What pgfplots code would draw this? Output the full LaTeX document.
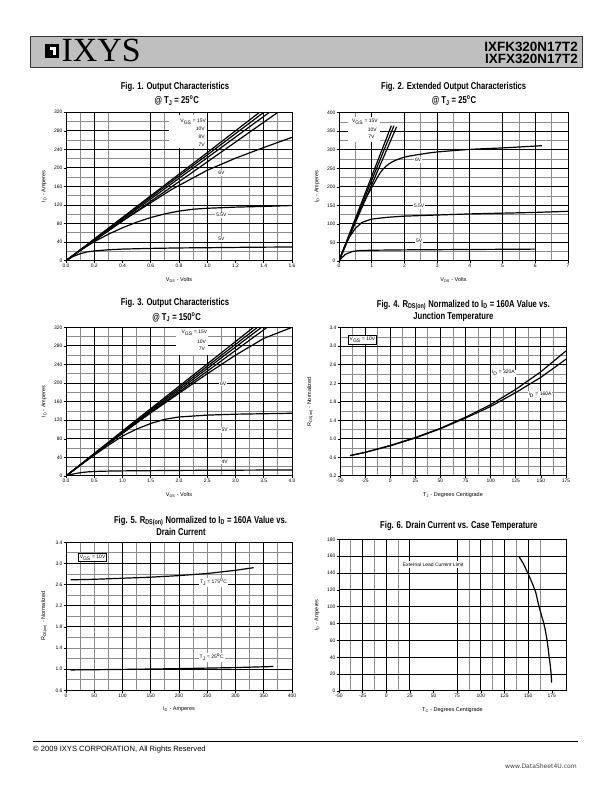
\documentclass[border=0pt]{standalone}
\usepackage{fontspec}
\setmainfont{Liberation Sans}
\newfontface\titlefont[FakeStretch=0.77]{Liberation Sans Bold}
\newfontfamily\seriffont{Liberation Serif}
\newfontfamily\dejavu{DejaVu Sans}
\usepackage{pgfplots}
\pgfplotsset{compat=1.18}
\tikzset{
  lab/.style={font=\fontsize{5}{6}\selectfont, fill=white, inner sep=1bp},
  onedec/.style={/pgf/number format/.cd, fixed, fixed zerofill, precision=1},
}
\pgfplotsset{
  ds/.style={
    scale only axis, anchor=south west,
    axis line style={line width=1bp},
    tick align=outside, xtick pos=lower, ytick pos=left,
    major tick length=2.3bp, minor tick length=0bp,
    every tick/.style={black, line width=0.6bp},
    ticklabel style={font=\fontsize{5}{6}\selectfont, inner sep=1bp},
    /pgf/number format/assume math mode=true,
    xmajorgrids=false, ymajorgrids=false,
    xminorgrids=true, yminorgrids=true,
    minor grid style={line width=0.8bp, color=black!45},
    extra x tick style={grid=major, major grid style={line width=0.95bp, black}, xticklabel={}},
    extra y tick style={grid=major, major grid style={line width=0.95bp, black}, yticklabel={}},
    cycle list={{black, solid, mark=none, smooth}},
    every axis plot post/.append style={line width=1.2bp},
    every axis x label/.style={at={(axis description cs:0.5,0)}, anchor=center, yshift=-19bp, font=\fontsize{5.5}{6.5}\selectfont},
    every axis y label/.style={at={(axis description cs:0,0.5)}, anchor=center, xshift=-22bp, rotate=90, font=\fontsize{5.5}{6.5}\selectfont},
  },
}
\newcommand{\ttl}{\titlefont\fontsize{10}{12}\selectfont}
\begin{document}
\begin{tikzpicture}[x=1bp,y=1bp]
\useasboundingbox (0,0) rectangle (612,792);
\fill[white] (0,0) rectangle (612,792);
% ---------- header ----------
\filldraw[fill=black!25, draw=black!80, line width=0.8bp] (30,792-36) rectangle (582,792-67);
\fill[black] (45,792-58.5) rectangle (59,792-44);
\fill[white] (49.5,792-55.5) rectangle (56,792-47);
\fill[black] (49.5,792-55.5) rectangle (52.5,792-50.5);
\node[anchor=base west, inner sep=0pt, font=\seriffont\fontsize{34}{36}\selectfont] at (61.5,792-62) {IXYS};
\node[anchor=base east, inner sep=0pt, font=\bfseries\fontsize{13.5}{15}\selectfont] at (578,792-52) {IXFK320N17T2};
\node[anchor=base east, inner sep=0pt, font=\bfseries\fontsize{13.5}{15}\selectfont] at (578,792-64) {IXFX320N17T2};
% ---------- titles ----------
\node[font=\ttl] at (175,792-86.7) {Fig. 1. Output Characteristics};
\node[font=\ttl] at (176.7,792-100.7) {@ T\textsubscript{J} = 25\textsuperscript{o}C};
\node[font=\ttl] at (453.7,792-87.3) {Fig. 2. Extended Output Characteristics};
\node[font=\ttl] at (454,792-100.7) {@ T\textsubscript{J} = 25\textsuperscript{o}C};
\node[font=\ttl] at (175,792-303.3) {Fig. 3. Output Characteristics};
\node[font=\ttl] at (176.7,792-317.3) {@ T\textsubscript{J} = 150\textsuperscript{o}C};
\node[font=\ttl] at (463.3,792-305) {Fig. 4. R\textsubscript{DS(on)} Normalized to I\textsubscript{D} = 160A Value vs.};
\node[font=\ttl] at (453.3,792-316.5) {Junction Temperature};
\node[font=\ttl] at (200.5,792-521) {Fig. 5. R\textsubscript{DS(on)} Normalized to I\textsubscript{D} = 160A Value vs.};
\node[font=\ttl] at (181,792-532) {Drain Current};
\node[font=\ttl] at (458.8,792-526) {Fig. 6. Drain Current vs. Case Temperature};

% ================= Fig 1 =================
\begin{axis}[ds, at={(66bp,531.3bp)}, width=226bp, height=148.4bp,
  xmin=0, xmax=1.6, ymin=0, ymax=320,
  xtick={0,0.2,0.4,0.6,0.8,1.0,1.2,1.4,1.6}, ytick={0,40,80,120,160,200,240,280,320},
  xticklabel style={onedec},
  minor xtick={0.1,0.3,0.7,0.9,1.1,1.3,1.5},
  extra x ticks={0.2,0.6,0.8,1.0,1.4},
  minor ytick={20,60,100,140,180,220,260,300},
  extra y ticks={40,80,120,160,200,240,280},
  xlabel={V\textsubscript{DS} - Volts}, ylabel={I\textsubscript{D} - Amperes}]
\node[fill=white, inner sep=0pt, minimum width=38bp, minimum height=33bp, anchor=north east] at (axis cs:1.0,314) {};
\node[lab, anchor=east, fill=none] at (axis cs:1.0,299) {V\textsubscript{GS} = 15V};
\node[lab, anchor=east, fill=none] at (axis cs:0.99,284) {10V};
\node[lab, anchor=east, fill=none] at (axis cs:0.99,267) {8V};
\node[lab, anchor=east, fill=none] at (axis cs:0.99,249) {7V};
\node[lab] at (axis cs:1.10,189) {6V};
\node[lab] at (axis cs:1.10,98) {5.5V};
\node[lab] at (axis cs:1.10,47) {5V};
\addplot coordinates {(0,0)(0.2,46.7)(0.6,140)(1.0,233)(1.37,320)};
\addplot coordinates {(0,0)(0.2,45.7)(0.6,137)(1.0,228)(1.40,320)};
\addplot coordinates {(0,0)(0.2,44.5)(0.6,133)(1.0,222)(1.44,320)};
\addplot coordinates {(0,0)(0.2,43)(0.6,128)(1.0,213)(1.50,320)};
\addplot coordinates {(0,0)(0.2,44)(0.4,86)(0.6,125)(0.75,154)(1.0,195)(1.2,221)(1.4,244)(1.6,266)};
\addplot coordinates {(0,0)(0.1,22)(0.2,41)(0.3,57)(0.4,71)(0.5,83)(0.6,93)(0.7,101)(0.8,107)(0.9,111)(1.0,113)(1.2,115.5)(1.4,117)(1.6,119)};
\addplot coordinates {(0,0)(0.05,9)(0.1,15)(0.15,19)(0.2,21)(0.3,23.5)(0.4,25)(0.6,26.5)(0.8,27.5)(1.0,28)(1.3,29)(1.6,29.5)};
\end{axis}

% ================= Fig 2 =================
\begin{axis}[ds, at={(339bp,531bp)}, width=229bp, height=148.3bp,
  xmin=0, xmax=7, ymin=0, ymax=400,
  xtick={0,1,2,3,4,5,6,7}, ytick={0,50,100,150,200,250,300,350,400},
  minor xtick={0.5,2.5,3.5,5.5,6.5},
  extra x ticks={1,2,3,4,5,6},
  minor ytick={25,75,125,175,225,275,325,375},
  extra y ticks={50,100,150,200,250,300,350},
  xlabel={V\textsubscript{DS} - Volts}, ylabel={I\textsubscript{D} - Amperes}]
\node[fill=white, inner sep=0pt, minimum width=32bp, minimum height=25bp, anchor=north east] at (axis cs:1.25,388) {};
\node[lab, anchor=east, fill=none] at (axis cs:1.22,376) {V\textsubscript{GS} = 15V};
\node[lab, anchor=east, fill=none] at (axis cs:1.19,355) {10V};
\node[lab, anchor=east, fill=none] at (axis cs:1.12,335) {7V};
\node[lab] at (axis cs:2.42,272) {6V};
\node[lab] at (axis cs:2.45,148) {5.5V};
\node[lab] at (axis cs:2.45,55) {5V};
\addplot coordinates {(0,0)(0.8,183)(1.6,365)};
\addplot coordinates {(0,0)(0.84,183)(1.68,365)};
\addplot coordinates {(0,0)(0.88,181)(1.76,362)};
\addplot coordinates {(0,0)(0.5,110)(0.8,165)(1.0,198)(1.3,243)(1.6,266)(2,280)(2.5,288)(3,294)(4,301)(5,305)(6.2,311)};
\addplot coordinates {(0,0)(0.15,35)(0.3,62)(0.5,88)(0.7,104)(1.0,113)(1.5,118)(2,121)(3,124)(4,127)(5,129)(6,131)(7,134)};
\addplot coordinates {(0,0)(0.1,10)(0.2,18)(0.4,25.5)(0.6,28)(1,29)(2,30)(4,31)(6,32)};
\end{axis}

% ================= Fig 3 =================
\begin{axis}[ds, at={(66bp,316bp)}, width=226bp, height=148.7bp,
  xmin=0, xmax=4, ymin=0, ymax=320,
  xtick={0,0.5,1.0,1.5,2.0,2.5,3.0,3.5,4.0}, ytick={0,40,80,120,160,200,240,280,320},
  xticklabel style={onedec},
  minor xtick={0.25,0.75,1.25,1.75,2.25,2.75,3.25,3.75},
  extra x ticks={0.5,1.0,1.5,2.0,2.5,3.0,3.5},
  minor ytick={20,60,100,140,180,220,260,300},
  extra y ticks={40,80,120,160,200,240,280},
  xlabel={V\textsubscript{DS} - Volts}, ylabel={I\textsubscript{D} - Amperes}]
\node[fill=white, inner sep=0pt, minimum width=32bp, minimum height=27bp, anchor=north east] at (axis cs:2.52,318) {};
\node[lab, anchor=east, fill=none] at (axis cs:2.52,308) {V\textsubscript{GS} = 15V};
\node[lab, anchor=east, fill=none] at (axis cs:2.50,289) {10V};
\node[lab, anchor=east, fill=none] at (axis cs:2.48,273) {7V};
\node[lab] at (axis cs:2.78,199.5) {6V};
\node[lab] at (axis cs:2.81,99) {5V};
\node[lab] at (axis cs:2.81,31) {4V};
\addplot coordinates {(0,0)(1.0,97)(2.0,193)(3.32,320)};
\addplot coordinates {(0,0)(1.0,95)(2.0,189)(3.39,320)};
\addplot coordinates {(0,0)(1.0,93.5)(2.0,185)(3.46,320)};
\addplot coordinates {(0,0)(1.0,92)(2.0,181)(3.56,320)};
\addplot coordinates {(0,0)(0.5,47)(1.0,92)(1.5,136)(2.0,178)(2.5,220)(3.0,260)(3.5,296)(4.0,320)};
\addplot coordinates {(0,0)(0.25,23)(0.5,45)(0.75,66)(1.0,86)(1.25,101)(1.5,113)(1.75,122)(2.0,127)(2.5,131)(3.0,133)(3.5,134)(4.0,135)};
\addplot coordinates {(0,0)(0.1,3.5)(0.2,6)(0.3,7.8)(0.4,9)(0.6,10.2)(1.0,11)(2.0,12)(3.0,12.5)(4.0,13)};
\end{axis}

% ================= Fig 4 =================
\begin{axis}[ds, at={(340bp,316bp)}, width=226bp, height=148.3bp,
  xmin=-50, xmax=175, ymin=0.2, ymax=3.4,
  xtick={-50,-25,0,25,50,75,100,125,150,175}, ytick={0.2,0.6,1.0,1.4,1.8,2.2,2.6,3.0,3.4},
  yticklabel style={onedec},
  minor xtick={-37.5,-12.5,12.5,37.5,62.5,87.5,112.5,137.5,162.5},
  extra x ticks={-25,0,25,50,75,100,125,150},
  minor ytick={0.4,0.8,1.2,1.6,2.0,2.4,2.8,3.2},
  extra y ticks={0.6,1.0,1.4,1.8,2.2,2.6,3.0},
  xlabel={T\textsubscript{J} - Degrees Centigrade}, ylabel={R\textsubscript{DS(on)} - Normalized},
  every axis y label/.style={at={(axis description cs:0,0.5)}, anchor=center, xshift=-30bp, rotate=90, font=\fontsize{5.5}{6.5}\selectfont}]
\node[font=\fontsize{5}{6}\selectfont, fill=white, draw=black, line width=0.7bp, inner sep=1.5bp] at (axis cs:-27.6,3.135) {V\textsubscript{GS} = 10V};
\node[lab] at (axis cs:112.6,2.42) {I\textsubscript{D} = 320A};
\node[lab] at (axis cs:149.1,1.95) {I\textsubscript{D} = 160A};
\addplot coordinates {(-40,0.64)(-25,0.71)(0,0.86)(25,1.03)(50,1.23)(75,1.47)(100,1.74)(125,2.07)(150,2.45)(175,2.90)};
\addplot coordinates {(-40,0.64)(-25,0.71)(0,0.85)(25,1.02)(50,1.22)(75,1.45)(100,1.70)(125,2.00)(150,2.33)(175,2.72)};
\end{axis}

% ================= Fig 5 =================
\begin{axis}[ds, at={(66bp,101.7bp)}, width=226bp, height=148bp,
  xmin=0, xmax=400, ymin=0.6, ymax=3.4,
  xtick={0,50,100,150,200,250,300,350,400}, ytick={0.6,1.0,1.4,1.8,2.2,2.6,3.0,3.4},
  yticklabel style={onedec},
  minor xtick={25,50,75,125,175,225,250,275,325,375},
  extra x ticks={100,150,200,300,350},
  minor ytick={0.8,1.2,1.4,1.6,2.0,2.4,2.8,3.2},
  extra y ticks={1.0,1.8,2.2,2.6,3.0},
  xlabel={I\textsubscript{D} - Amperes}, ylabel={R\textsubscript{DS(on)} - Normalized}]
\node[font=\fontsize{5}{6}\selectfont, fill=white, draw=black, line width=0.7bp, inner sep=1.5bp] at (axis cs:47,3.11) {V\textsubscript{GS} = 10V};
\node[lab] at (axis cs:261,2.64) {T\textsubscript{J} = 175\textsuperscript{o}C};
\node[lab] at (axis cs:258,1.22) {T\textsubscript{J} = 25\textsuperscript{o}C};
\addplot coordinates {(8,2.69)(50,2.70)(100,2.72)(150,2.74)(200,2.77)(250,2.81)(300,2.87)(332,2.92)};
\addplot coordinates {(8,0.985)(100,0.995)(200,1.01)(300,1.03)(367,1.05)};
\end{axis}

% ================= Fig 6 =================
\begin{axis}[ds, at={(339bp,101bp)}, width=227bp, height=151.7bp,
  xmin=-50, xmax=190, ymin=0, ymax=180,
  xtick={-50,-25,0,25,50,75,100,125,150,175}, ytick={0,20,40,60,80,100,120,140,160,180},
  minor xtick={-37.5,-12.5,12.5,87.5,112.5,137.5,162.5},
  extra x ticks={-25,0,25,75,100,125,150},
  minor ytick={},
  extra y ticks={20,40,60,80,100,120,140,160},
  xlabel={T\textsubscript{C} - Degrees Centigrade}, ylabel={I\textsubscript{D} - Amperes}]
\node[lab, inner sep=1.5bp] at (axis cs:49.6,150.3) {External Lead Current Limit};
\addplot coordinates {(140,160)(145,151)(150,139)(155,126)(158,117)(161.5,100)(164,90)(166.6,80)(168.5,70)(170,60)(171.2,50)(172.2,40)(173.4,30)(174.3,20)(174.8,10)};
\end{axis}

% ---------- footer ----------
\draw[line width=1bp] (33,792-741.7) -- (578,792-741.7);
\node[anchor=west, inner sep=0pt, font=\fontsize{7.6}{9}\selectfont] at (33,792-749.5) {\textcopyright{} 2009 IXYS CORPORATION, All Rights Reserved};
\node[anchor=east, inner sep=0pt, font=\dejavu\fontsize{6.1}{7}\selectfont, text=black!75] at (577,792-766.5) {www.DataSheet4U.com};
\end{tikzpicture}
\end{document}
